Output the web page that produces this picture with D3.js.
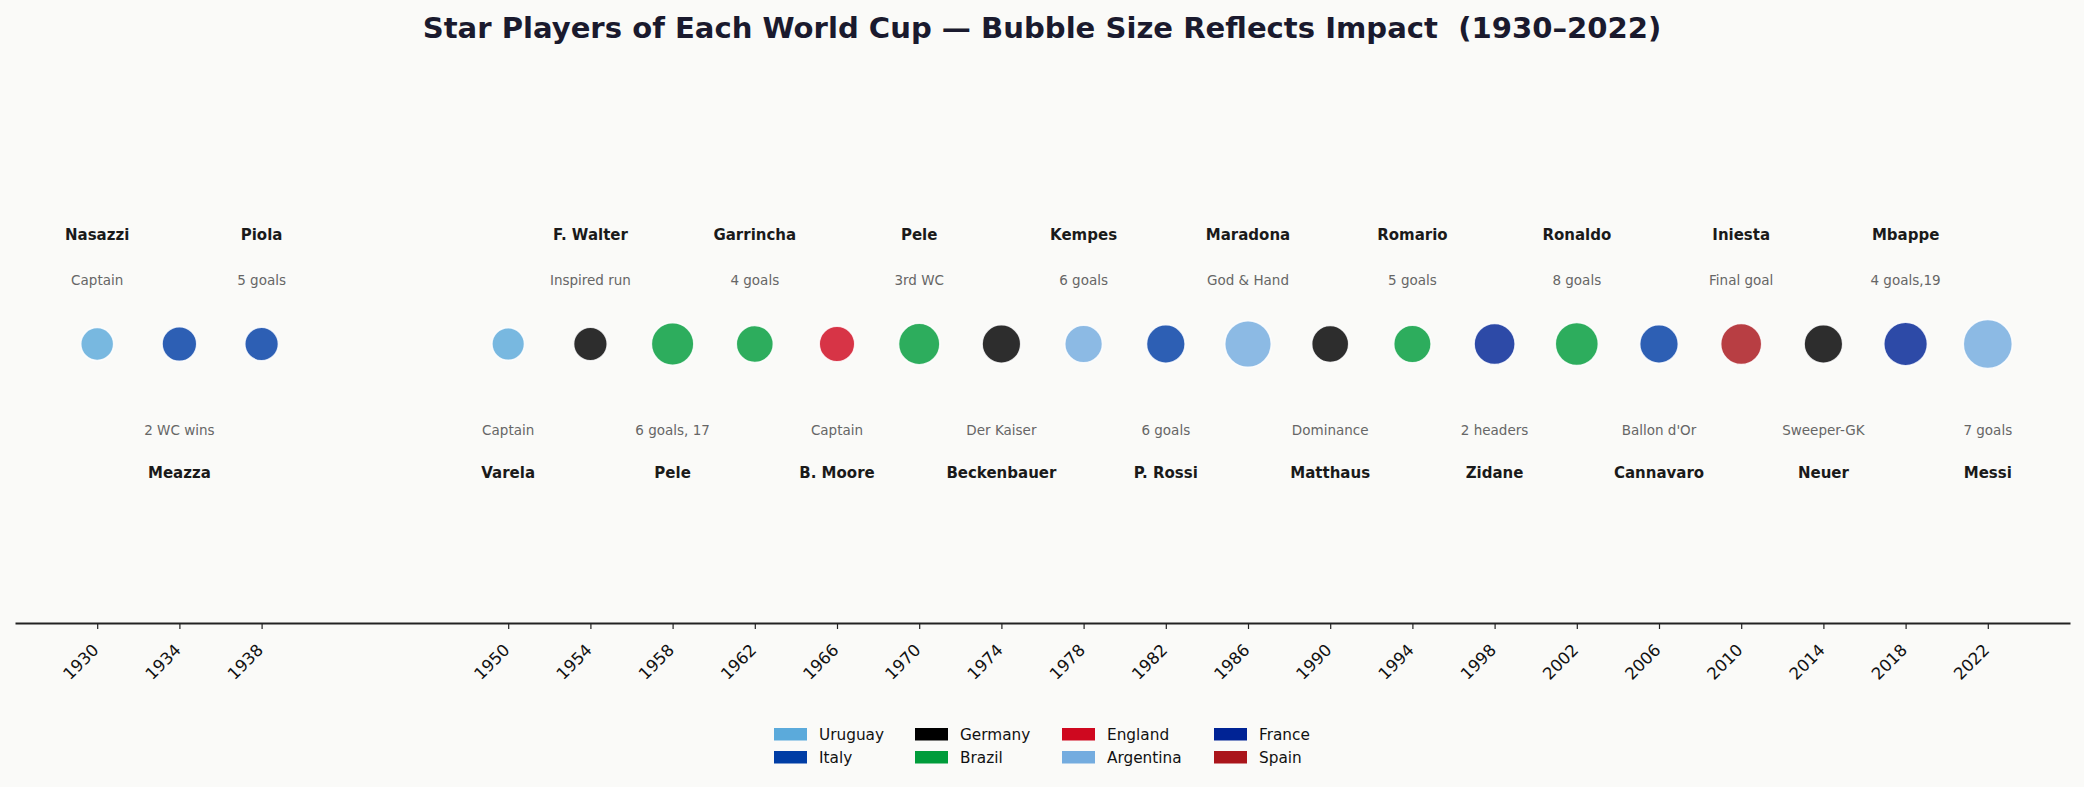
<!DOCTYPE html>
<html>
<head>
<meta charset="utf-8">
<script src="https://cdn.jsdelivr.net/npm/d3@7"></script>
<style>
  html, body { margin: 0; padding: 0; background: #fafaf8; }
  svg { display: block; font-family: "DejaVu Sans", sans-serif; }
</style>
</head>
<body>
<svg id="chart" width="2084" height="787"></svg>
<script>
// ---- data ----
const years    = [1930, 1934, 1938, 1950, 1954, 1958, 1962, 1966, 1970, 1974, 1978, 1982, 1986, 1990, 1994, 1998, 2002, 2006, 2010, 2014, 2018, 2022];
const players  = ["Nasazzi", "Meazza", "Piola", "Varela", "F. Walter", "Pele", "Garrincha", "B. Moore", "Pele", "Beckenbauer", "Kempes", "P. Rossi", "Maradona", "Matthaus", "Romario", "Zidane", "Ronaldo", "Cannavaro", "Iniesta", "Neuer", "Mbappe", "Messi"];
const teams    = ["Uruguay", "Italy", "Italy", "Uruguay", "Germany", "Brazil", "Brazil", "England", "Brazil", "Germany", "Argentina", "Italy", "Argentina", "Germany", "Brazil", "France", "Brazil", "Italy", "Spain", "Germany", "France", "Argentina"];
const notes    = ["Captain", "2 WC wins", "5 goals", "Captain", "Inspired run", "6 goals, 17", "4 goals", "Captain", "3rd WC", "Der Kaiser", "6 goals", "6 goals", "God & Hand", "Dominance", "5 goals", "2 headers", "8 goals", "Ballon d'Or", "Final goal", "Sweeper-GK", "4 goals,19", "7 goals"];
const impact   = [4.5, 5.0, 4.7, 4.4, 4.7, 7.5, 5.7, 5.25, 7.1, 6.2, 5.9, 6.2, 9.0, 5.7, 5.8, 7.0, 7.7, 6.2, 7.0, 6.2, 7.9, 10.0];
const legendTeams  = ["Uruguay", "Italy", "Germany", "Brazil", "England", "Argentina", "France", "Spain"];
const legendColors = ["#5BAADB", "#003DA5", "#000000", "#009C3B", "#CF081F", "#74ACDF", "#002395", "#AA151B"];
const tickYears = years;

// ---- layout ----
const W = 2084, H = 787;
const axisY = 623, centerY = 344;
const svg = d3.select("#chart");
svg.append("rect").attr("width", W).attr("height", H).attr("fill", "#fafaf8");

const x = d3.scaleLinear().domain([1926, 2026]).range([15, 2070]);
const r = d3.scaleSqrt().domain([0, 10]).range([0, 24.5]);
const color = d3.scaleOrdinal().domain(legendTeams).range(legendColors);

const data = years.map((y, i) => ({year: y, player: players[i], team: teams[i], note: notes[i], impact: impact[i], up: i % 2 === 0}));

// title
svg.append("text")
  .attr("x", W / 2).attr("y", 28)
  .attr("text-anchor", "middle").attr("dominant-baseline", "central")
  .attr("font-size", 29.1).attr("font-weight", "bold").attr("fill", "#1a1a2e")
  .style("white-space", "pre")
  .text("Star Players of Each World Cup \u2014 Bubble Size Reflects Impact  (1930\u20132022)");

// axis
const axis = d3.axisBottom(x).tickValues(tickYears).tickFormat(d3.format("d")).tickSize(6).tickSizeOuter(0);
const gAxis = svg.append("g").attr("transform", `translate(0,${axisY})`).call(axis);
gAxis.select(".domain").attr("stroke", "#222").attr("stroke-width", 2);
gAxis.selectAll(".tick line").attr("stroke", "#222").attr("stroke-width", 1.2);
gAxis.selectAll(".tick text")
  .attr("font-family", "DejaVu Sans, sans-serif")
  .attr("font-size", 16.5).attr("fill", "#111")
  .attr("text-anchor", "end")
  .attr("dy", "0.35em")
  .attr("y", 0)
  .attr("transform", "translate(-2,24) rotate(-45)");

// bubbles
svg.append("g").selectAll("circle").data(data).join("circle")
  .attr("cx", d => x(d.year)).attr("cy", centerY)
  .attr("r", d => r(d.impact))
  .attr("fill", d => color(d.team)).attr("fill-opacity", 0.82)
  .attr("stroke", "#ffffff").attr("stroke-width", 1.5).attr("stroke-opacity", 0.85);

// names
svg.append("g").selectAll("text").data(data).join("text")
  .attr("x", d => x(d.year))
  .attr("y", d => d.up ? centerY - 109 : centerY + 129)
  .attr("text-anchor", "middle").attr("dominant-baseline", "central")
  .attr("font-size", 15).attr("font-weight", "bold").attr("fill", "#1a1a1a")
  .text(d => d.player);

// notes
svg.append("g").selectAll("text").data(data).join("text")
  .attr("x", d => x(d.year))
  .attr("y", d => d.up ? centerY - 64 : centerY + 86)
  .attr("text-anchor", "middle").attr("dominant-baseline", "central")
  .attr("font-size", 13.5).attr("fill", "#666")
  .text(d => d.note);

// legend
const colX = [774, 915, 1062, 1214];
const rowY = [728, 751];
const leg = svg.append("g").selectAll("g").data(legendTeams).join("g")
  .attr("transform", (d, i) => `translate(${colX[Math.floor(i / 2)]},${rowY[i % 2]})`);
leg.append("rect").attr("width", 33).attr("height", 12.5).attr("fill", d => color(d));
leg.append("text").attr("x", 45).attr("y", 6.5).attr("dominant-baseline", "central")
  .attr("font-size", 15.3).attr("fill", "#111").text(d => d);
</script>
</body>
</html>
